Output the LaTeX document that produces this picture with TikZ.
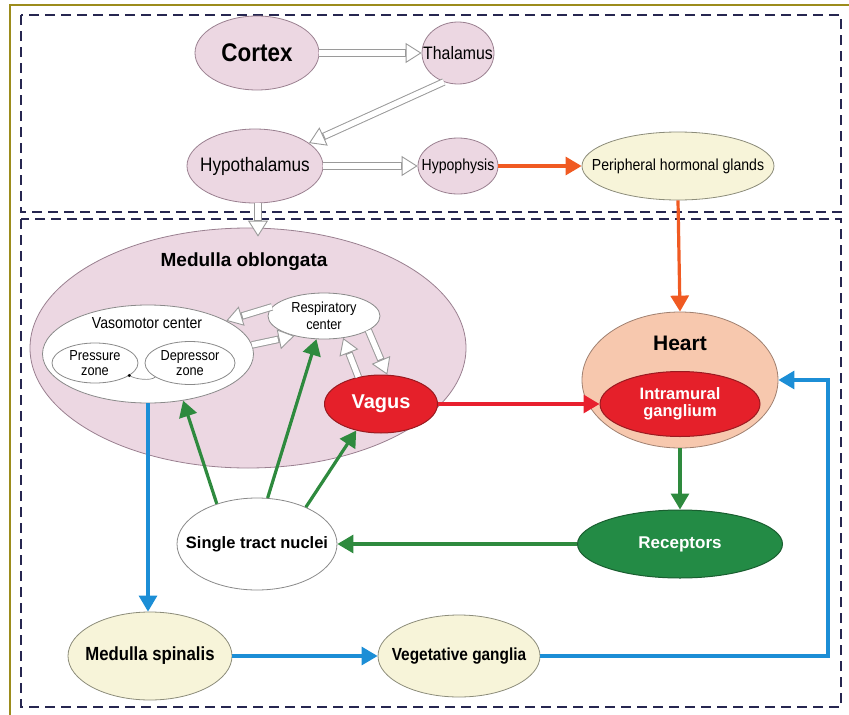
\documentclass[tikz,border=0pt]{standalone}
\usepackage{fontspec}
\setmainfont{Liberation Sans}
\newfontfamily\nf[FakeStretch=0.88]{Liberation Sans}
\usetikzlibrary{shapes.geometric,arrows.meta,calc}
\definecolor{pinkfill}{HTML}{ECD7E2}
\definecolor{pinkline}{HTML}{9A8090}
\definecolor{yelfill}{HTML}{F7F4D9}
\definecolor{yelline}{HTML}{8C8C7A}
\definecolor{peach}{HTML}{F7C8AE}
\definecolor{peachline}{HTML}{A08070}
\definecolor{redfill}{HTML}{E5202A}
\definecolor{redline}{HTML}{9A1A20}
\definecolor{greenfill}{HTML}{238B45}
\definecolor{greenline}{HTML}{1A5E30}
\definecolor{greenarr}{HTML}{2E8A3E}
\definecolor{bluearr}{HTML}{1C8ED6}
\definecolor{orangearr}{HTML}{F05A22}
\definecolor{redarr}{HTML}{E8202E}
\definecolor{navy}{HTML}{262650}
\definecolor{olivec}{HTML}{9C8C1C}
\definecolor{hollowgray}{HTML}{9A9A9A}
\definecolor{grayline}{HTML}{8A8A8A}
\begin{document}
\begin{tikzpicture}[x=1pt,y=-1pt,
  ell/.style={ellipse, inner sep=0pt, line width=0.8pt},
  pinkn/.style={ell, fill=pinkfill, draw=pinkline},
  yeln/.style={ell, fill=yelfill, draw=yelline},
  whiten/.style={ell, fill=white, draw=grayline},
  redn/.style={ell, fill=redfill, draw=redline, line width=1pt},
  greenn/.style={ell, fill=greenfill, draw=greenline, line width=1pt},
  peachn/.style={ell, fill=peach, draw=peachline},
  boxline/.style={draw=navy, line width=2.8pt, dash pattern=on 10pt off 6pt},
  carrow/.style={line width=3.2pt, -{Triangle[length=16pt,width=18pt]}},
  hollow/.style={draw=hollowgray, line width=7.5pt,
     -{Triangle[length=16pt,width=20pt,line width=0.9pt,fill=white]},
     postaction={draw=white, line width=5.5pt, -, shorten >=17pt}},
  reg/.style={font=\nf\fontsize{#1}{#1}\selectfont, align=center},
  regb/.style={font=\nf\bfseries\fontsize{#1}{#1}\selectfont, align=center},
  bld/.style={font=\bfseries\fontsize{#1}{#1}\selectfont, align=center}
]
\useasboundingbox (0,0) rectangle (849,715);
% frame
\draw[olivec, line width=2pt] (10,717) -- (10,5) -- (851,5);
% dashed boxes
\draw[boxline] (21,15) rectangle (841,212);
\draw[boxline] (21,219) rectangle (841,707);

% top nodes
\node[pinkn, minimum width=124, minimum height=74,
  label={[regb=25.5]center:Cortex}] (cortex) at (257,53) {};
\node[pinkn, minimum width=72, minimum height=62,
  label={[reg=18]center:Thalamus}] (thal) at (458,53) {};
\node[pinkn, minimum width=136, minimum height=74,
  label={[reg=19.5]center:Hypothalamus}] (hypoth) at (255,166) {};
\node[pinkn, minimum width=80, minimum height=56,
  label={[reg=16]center:Hypophysis}] (hypoph) at (458,166) {};
\node[yeln, minimum width=192, minimum height=68,
  label={[reg=16]center:Peripheral hormonal glands}] (periph) at (678,166) {};

% medulla oblongata
\node[pinkn, minimum width=436, minimum height=240] (medulla) at (248,348) {};
\node[bld=19] (motitle) at (244,262) {Medulla oblongata};
\node[whiten, minimum width=211, minimum height=98] (vaso) at (148,354) {};
\node[reg=16] (vasotitle) at (147,323) {Vasomotor center};
\node[whiten, minimum width=86, minimum height=40,
  label={[reg=14.5, font=\nf\fontsize{14.5}{15.5}\selectfont]center:Pressure\\zone}] (press) at (95,363) {};
\node[whiten, minimum width=90, minimum height=43,
  label={[reg=14.5, font=\nf\fontsize{14.5}{15.5}\selectfont]center:Depressor\\zone}] (depr) at (190,363) {};
\node[whiten, minimum width=112, minimum height=46,
  label={[reg=14.5, font=\nf\fontsize{14.5}{16.5}\selectfont]center:Respiratory\\center}] (resp) at (324,316) {};
\node[redn, minimum width=113, minimum height=58,
  label={[bld=20, text=white]center:Vagus}] (vagus) at (381,404) {};

% heart
\node[peachn, minimum width=196, minimum height=136] (heart) at (680,380) {};
\node[bld=21] (hearttitle) at (680,343) {Heart};
\node[redn, minimum width=160, minimum height=65,
  label={[bld=16.5, font=\bfseries\fontsize{16.5}{17}\selectfont, text=white]center:Intramural\\ganglium}] (intra) at (680,404) {};

\node[greenn, minimum width=205, minimum height=68,
  label={[bld=17, text=white]center:Receptors}] (rec) at (680,544) {};
\node[whiten, minimum width=160, minimum height=92,
  label={[bld=16.5]center:Single tract nuclei}] (single) at (257,544) {};
\node[yeln, minimum width=164, minimum height=88,
  label={[regb=19]center:Medulla spinalis}] (spin) at (150,656) {};
\node[yeln, minimum width=162, minimum height=82,
  label={[regb=17.5]center:Vegetative ganglia}] (veg) at (459,656) {};
\coordinate (rcorner) at (828,500);

% hollow arrows
\draw[hollow] (cortex.east) -- (thal.west);
\draw[hollow] (thal.-116) -- (hypoth.23);
\draw[hollow] (hypoth.east) -- (hypoph.west);
\draw[hollow] ([xshift=3pt]hypoth.south) -- ($([xshift=3pt]hypoth.south |- medulla.north)+(0,9)$);
\draw[hollow] (resp.170) -- (vaso.23);
\draw[hollow] (vaso.5) -- (resp.-146);
\draw[hollow] (vagus.130) -- (resp.-49);
\draw[hollow] (resp.-18) -- (vagus.78);

% coloured arrows
\draw[carrow, orangearr] (hypoph.east) -- (periph.west);
\draw[carrow, orangearr] (periph.south) -- (heart.north);
\draw[carrow, redarr] (vagus.east) -- (intra.west);
\draw[carrow, greenarr] (heart.south) -- (rec.north);
\draw[carrow, greenarr] (rec.west) -- (single.east);
\draw[carrow, greenarr] (single.135) -- (vaso.-53);
\draw[carrow, greenarr] (single.77) -- (resp.-108);
\draw[carrow, greenarr] (single.37) -- (vagus.-133);
\draw[carrow, bluearr] (vaso.south) -- (vaso.south |- spin.north);
\draw[carrow, bluearr] (spin.east) -- (veg.west);
\draw[carrow, bluearr] (veg.east) -| (rcorner) |- (heart.east);

% pressure-depressor link
\draw[grayline, line width=0.7pt] (press.-20) .. controls +(6,4) and +(-4,4) .. (depr.-158);
\fill[black] (press.-20) circle (1.6pt);
\end{tikzpicture}
\end{document}
